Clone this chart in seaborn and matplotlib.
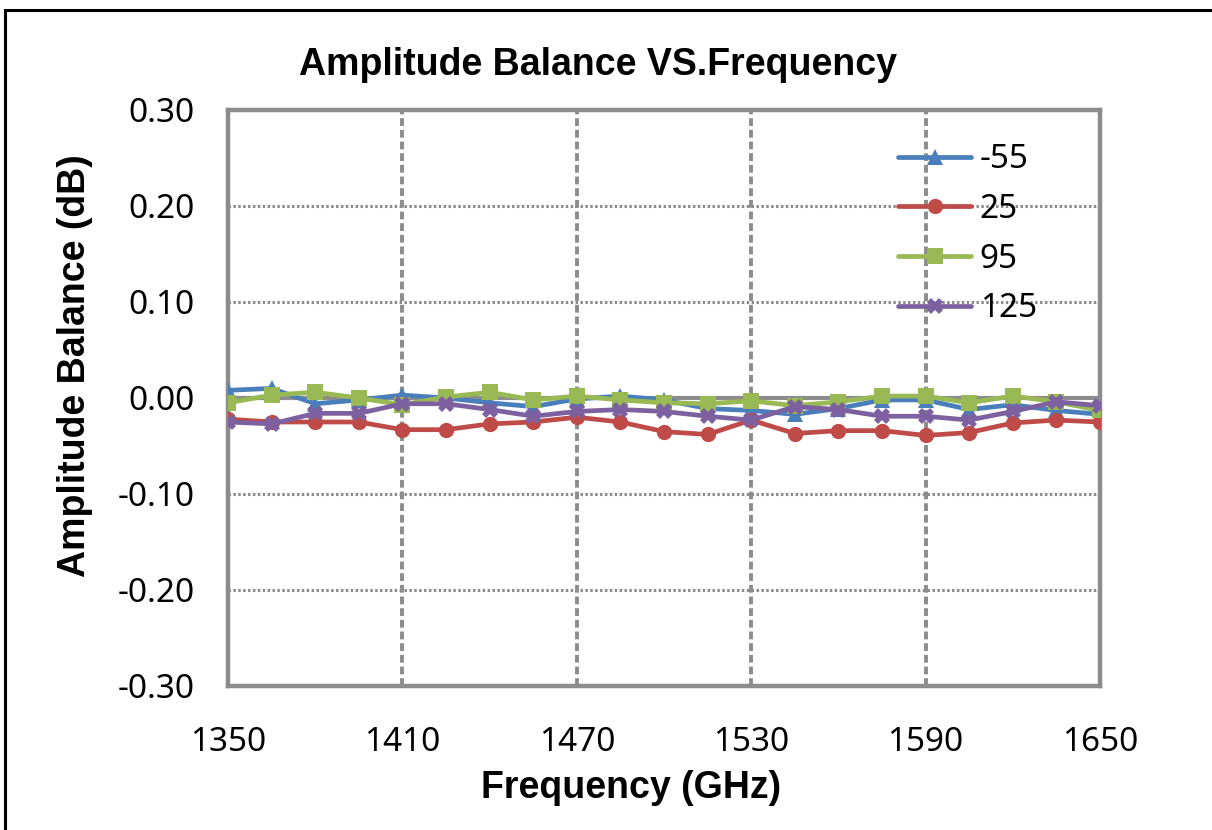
import matplotlib

matplotlib.use('Agg')
import matplotlib.pyplot as plt
from matplotlib.patches import Rectangle
import numpy as np
import pandas as pd
import seaborn as sns

# frequency points (GHz)
freq = [1350, 1365, 1380, 1395, 1410, 1425, 1440, 1455, 1470, 1485, 1500,
        1515, 1530, 1545, 1560, 1575, 1590, 1605, 1620, 1635, 1650]

# amplitude balance (dB) per temperature
bal_m55 = [0.008, 0.010, -0.006, -0.002, 0.003, 0.000, -0.005, -0.009, -0.001, 0.002, -0.002,
           -0.011, -0.013, -0.017, -0.011, -0.002, -0.002, -0.012, -0.007, -0.013, -0.017]
bal_25 = [-0.022, -0.025, -0.025, -0.025, -0.033, -0.033, -0.027, -0.025, -0.020, -0.025, -0.035,
          -0.038, -0.023, -0.037, -0.034, -0.034, -0.039, -0.036, -0.026, -0.023, -0.025]
bal_95 = [-0.005, 0.003, 0.006, 0.000, -0.007, 0.001, 0.006, -0.002, 0.002, -0.002, -0.005,
          -0.006, -0.003, -0.008, -0.004, 0.002, 0.002, -0.005, 0.002, -0.004, -0.013]
bal_125 = [-0.025, -0.027, -0.016, -0.016, -0.006, -0.006, -0.012, -0.019, -0.014, -0.012, -0.014,
           -0.019, -0.023, -0.009, -0.012, -0.019, -0.019, -0.023, -0.014, -0.004, -0.008]

temps = ['-55', '25', '95', '125']
xticks = [1350, 1410, 1470, 1530, 1590, 1650]
yticks = [-0.30, -0.20, -0.10, 0.00, 0.10, 0.20, 0.30]

df = pd.concat([pd.DataFrame({'freq': freq, 'bal': v, 'temp': t})
                for t, v in zip(temps, [bal_m55, bal_25, bal_95, bal_125])],
               ignore_index=True)

palette = {'-55': '#4a7ebb', '25': '#be4b48', '95': '#98b954', '125': '#7d60a0'}
markers = {'-55': '^', '25': 'o', '95': 's', '125': 'X'}
grey = '#8c8c8c'

sns.set_style('white', {'text.color': 'black', 'xtick.color': 'black', 'ytick.color': 'black',
                        'axes.labelcolor': 'black'})
plt.rcParams['font.family'] = ['Noto Sans', 'DejaVu Sans']

fig = plt.figure(figsize=(12.12, 8.30), dpi=100)
ax = fig.add_axes([228 / 1212, 1 - 686 / 830, 872 / 1212, 576 / 830])

ax.add_patch(Rectangle((5 / 1212, -0.1), 1.5, 1 - 10 / 830 + 0.1, transform=fig.transFigure,
                       fill=False, ec='black', lw=2.2, clip_on=False, zorder=0))

# grid + zero axis
for x in xticks[1:-1]:
    ax.axvline(x, color=grey, lw=2.8, ls=(0, (2.0, 1.0)), zorder=1)
for y in yticks:
    if abs(y) > 1e-9 and abs(y) < 0.29:
        ax.axhline(y, color=grey, lw=2.2, ls=(0, (0.8, 0.8)), zorder=1)
ax.axhline(0, color=grey, lw=3.0, zorder=1)

sns.lineplot(data=df, x='freq', y='bal', hue='temp', style='temp', hue_order=temps,
             style_order=temps, palette=palette, markers=markers, dashes=False,
             lw=3.4, markersize=11, mew=0, ax=ax, zorder=3)

ax.set_xlim(1350, 1650)
ax.set_ylim(-0.30, 0.30)
ax.set_xticks(xticks)
ax.set_yticks(yticks)
ax.set_yticklabels([f'{v:.2f}' for v in yticks])
ax.tick_params(axis='y', direction='out', length=11, width=3.0, color=grey, pad=13,
               labelsize=24, labelcolor='black')
ax.tick_params(axis='x', length=0, pad=29, labelsize=24, labelcolor='black')
for s in ax.spines.values():
    s.set_color(grey)
    s.set_linewidth(3.2)

bold = dict(family=['Liberation Sans', 'DejaVu Sans'], weight='bold', color='black')
ax.set_title('Amplitude Balance VS.Frequency', fontsize=27, x=0.424, y=1.047, **bold)
ax.set_xlabel('Frequency (GHz)', fontsize=27, **bold)
ax.set_ylabel('Amplitude Balance (dB)', fontsize=27, **bold)
ax.xaxis.set_label_coords(0.462, -0.177)
ax.xaxis.label.set_va('center')
ax.yaxis.set_label_coords(-0.1755, 0.557)
ax.yaxis.label.set_va('center')

h, l = ax.get_legend_handles_labels()
for hd in h:
    hd.set_linewidth(3.4)
    hd.set_markersize(11)
ax.legend(h, l, loc='upper left', bbox_to_anchor=(0.753, 0.965), frameon=False,
          fontsize=24, handlelength=2.2, handletextpad=0.25, labelspacing=0.5,
          borderaxespad=0, labelcolor='black')

fig.savefig('out.png', dpi=100)
